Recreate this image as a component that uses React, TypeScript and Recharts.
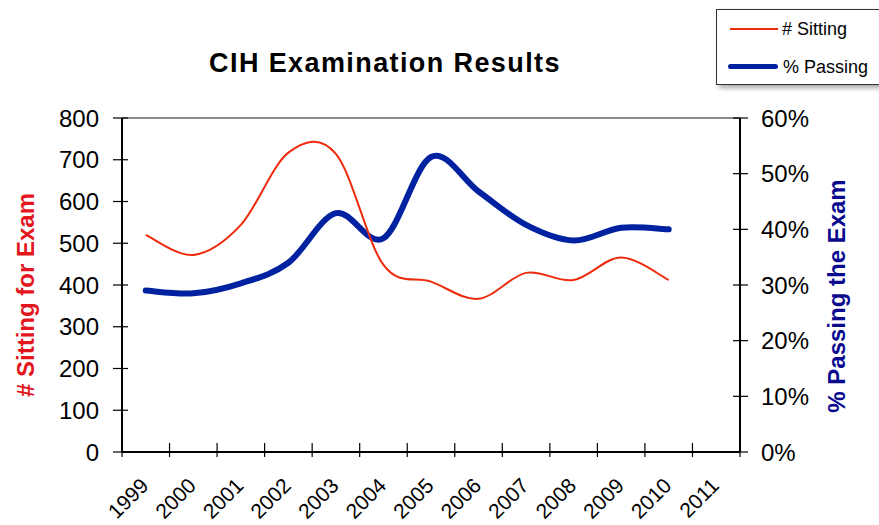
import { FC } from "react";
import {
  LineChart,
  Line,
  XAxis,
  YAxis,
  Legend,
  ReferenceLine,
} from "recharts";

const years = [
  "1999", "2000", "2001", "2002", "2003", "2004", "2005",
  "2006", "2007", "2008", "2009", "2010", "2011",
];
// number of candidates sitting the exam (2011 not reported)
const sitting = [520, 472, 544, 717, 714, 448, 408, 367, 429, 412, 466, 412, null];
// percentage passing
const passing = [29.0, 28.5, 30.3, 34.0, 42.9, 38.4, 53.0, 46.8, 40.8, 38.0, 40.3, 40.0, null];

const leftTicks = [0, 100, 200, 300, 400, 500, 600, 700, 800];
const rightTicks = [0, 10, 20, 30, 40, 50, 60];

const data = years.map((year, i) => ({
  year,
  sitting: sitting[i],
  passing: passing[i],
}));

const W = 879;
const H = 525;
const PLOT_LEFT = 122;
const PLOT_RIGHT = 740;
const PLOT_TOP = 118;
const PLOT_BOTTOM = 452;
const BAND = (PLOT_RIGHT - PLOT_LEFT) / years.length;

const FONT = "'Liberation Sans', Arial, Helvetica, sans-serif";
const RED = "#EE2A0C";
const BLUE = "#0022A0";

// Excel style smoothed line (Catmull-Rom through the points)
const excelSmooth = (context: any) => {
  let pts: number[][] = [];
  return {
    areaStart() {},
    areaEnd() {},
    lineStart() {
      pts = [];
    },
    point(x: number, y: number) {
      pts.push([+x, +y]);
    },
    lineEnd() {
      const n = pts.length;
      if (!n) return;
      context.moveTo(pts[0][0], pts[0][1]);
      for (let i = 0; i < n - 1; i++) {
        const p0 = pts[Math.max(i - 1, 0)];
        const p1 = pts[i];
        const p2 = pts[i + 1];
        const p3 = pts[Math.min(i + 2, n - 1)];
        context.bezierCurveTo(
          p1[0] + (p2[0] - p0[0]) / 6,
          p1[1] + (p2[1] - p0[1]) / 6,
          p2[0] - (p3[0] - p1[0]) / 6,
          p2[1] - (p3[1] - p1[1]) / 6,
          p2[0],
          p2[1]
        );
      }
    },
  };
};

const XTick = (props: any) => {
  const { x, y, payload, index } = props;
  const last = index === years.length - 1;
  const tx = x + 4;
  const ty = y + 35;
  return (
    <g>
      <line x1={x - BAND / 2} x2={x - BAND / 2} y1={y - 9} y2={y + 5} stroke="#000" strokeWidth={1.2} />
      {last && (
        <line x1={x + BAND / 2} x2={x + BAND / 2} y1={y - 9} y2={y + 5} stroke="#000" strokeWidth={1.2} />
      )}
      <text
        x={tx}
        y={ty}
        transform={`rotate(-45 ${tx} ${ty})`}
        textAnchor="end"
        fontSize={21}
        fontFamily={FONT}
        fill="#000"
      >
        {payload.value}
      </text>
    </g>
  );
};

const LeftTick = (props: any) => {
  const { x, y, payload } = props;
  return (
    <g>
      <line x1={x - 9} x2={x + 6} y1={y} y2={y} stroke="#000" strokeWidth={1.2} />
      <text x={x - 23} y={y} dy="0.36em" textAnchor="end" fontSize={24} fontFamily={FONT} fill="#000">
        {payload.value}
      </text>
    </g>
  );
};

const RightTick = (props: any) => {
  const { x, y, payload } = props;
  return (
    <g>
      <line x1={x - 7} x2={x + 8} y1={y} y2={y} stroke="#000" strokeWidth={1.2} />
      <text x={x + 21} y={y} dy="0.36em" textAnchor="start" fontSize={24} fontFamily={FONT} fill="#000">
        {`${payload.value}%`}
      </text>
    </g>
  );
};

const renderLegend = () => (
  <div
    style={{
      width: 180,
      height: 74,
      background: "#fff",
      border: "1px solid #333",
      boxShadow: "3px 3px 5px rgba(0,0,0,0.35)",
      fontFamily: FONT,
      fontSize: 18,
      color: "#000",
      position: "relative",
    }}
  >
    <div style={{ position: "absolute", left: 13, top: 18, width: 48, height: 2, background: RED }} />
    <div style={{ position: "absolute", left: 65, top: 8, lineHeight: "22px" }}># Sitting</div>
    <div style={{ position: "absolute", left: 11, top: 54, width: 50, height: 5, borderRadius: 3, background: BLUE }} />
    <div style={{ position: "absolute", left: 66, top: 46, lineHeight: "22px" }}>% Passing</div>
  </div>
);

const App: FC = () => {
  return (
    <div
      style={{
        position: "absolute",
        left: 0,
        top: 0,
        width: W,
        height: H,
        overflow: "hidden",
        background: "#fff",
      }}
    >
      <LineChart
        width={W}
        height={H}
        data={data}
        margin={{ top: PLOT_TOP, right: 0, bottom: 0, left: 0 }}
      >
        <text
          x={385}
          y={72}
          textAnchor="middle"
          fontSize={27}
          fontWeight="bold"
          letterSpacing={1.4}
          fontFamily={FONT}
          fill="#000"
        >
          CIH Examination Results
        </text>
        <text
          x={34}
          y={295}
          transform="rotate(-90 34 295)"
          textAnchor="middle"
          fontSize={24}
          fontWeight="bold"
          fontFamily={FONT}
          fill="#E3161E"
        >
          # Sitting for Exam
        </text>
        <text
          x={845}
          y={296}
          transform="rotate(-90 845 296)"
          textAnchor="middle"
          fontSize={24}
          fontWeight="bold"
          fontFamily={FONT}
          fill="#0A0A8F"
        >
          % Passing the Exam
        </text>
        <XAxis
          dataKey="year"
          scale="band"
          interval={0}
          height={H - PLOT_BOTTOM}
          tickSize={0}
          tickMargin={0}
          tickLine={false}
          axisLine={{ stroke: "#000", strokeWidth: 2 }}
          tick={<XTick />}
        />
        <YAxis
          yAxisId="left"
          orientation="left"
          width={PLOT_LEFT}
          domain={[0, 800]}
          ticks={leftTicks}
          interval={0}
          tickSize={0}
          tickMargin={0}
          tickLine={false}
          axisLine={{ stroke: "#000", strokeWidth: 2 }}
          tick={<LeftTick />}
        />
        <YAxis
          yAxisId="right"
          orientation="right"
          width={W - PLOT_RIGHT}
          domain={[0, 60]}
          ticks={rightTicks}
          interval={0}
          tickSize={0}
          tickMargin={0}
          tickLine={false}
          axisLine={{ stroke: "#000", strokeWidth: 2 }}
          tick={<RightTick />}
        />
        <ReferenceLine yAxisId="left" y={800} stroke="#8a8a8a" strokeWidth={2} />
        <Legend
          layout="vertical"
          align="center"
          verticalAlign="middle"
          content={renderLegend}
          wrapperStyle={{ left: 716, top: 9, width: 180, height: 76 }}
        />
        <Line
          yAxisId="right"
          dataKey="passing"
          type={excelSmooth as any}
          stroke={BLUE}
          strokeWidth={6}
          strokeLinecap="round"
          dot={false}
          activeDot={false}
          isAnimationActive={false}
        />
        <Line
          yAxisId="left"
          dataKey="sitting"
          type={excelSmooth as any}
          stroke={RED}
          strokeWidth={2}
          dot={false}
          activeDot={false}
          isAnimationActive={false}
        />
      </LineChart>
    </div>
  );
};

export default App;
